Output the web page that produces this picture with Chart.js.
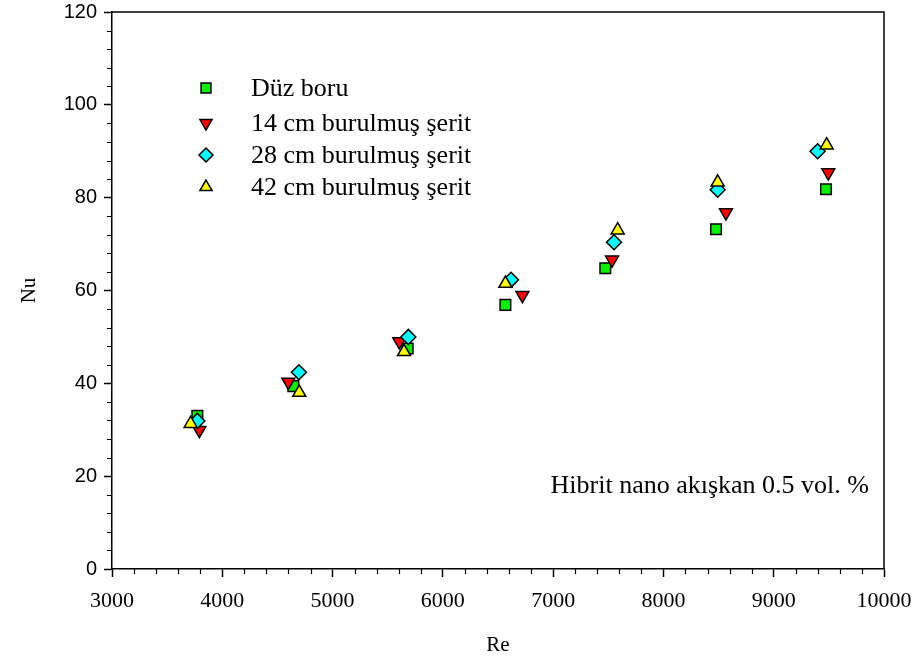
<!DOCTYPE html>
<html>
<head>
<meta charset="utf-8">
<script src="https://cdn.jsdelivr.net/npm/chart.js@4/dist/chart.umd.min.js"></script>
<style>
  html, body { margin: 0; padding: 0; background: #fff; }
  canvas { display: block; }
</style>
</head>
<body>
<canvas id="c" width="917" height="666"></canvas>
<script>
// Nu vs Re for a plain tube and three twisted-tape lengths
const seriesLabels = ['Düz boru', '14 cm burulmuş şerit', '28 cm burulmuş şerit', '42 cm burulmuş şerit'];

const reDuz = [3774, 4644, 5681, 6567, 7473, 8477, 9474];
const nuDuz = [33.0, 39.4, 47.5, 56.9, 64.8, 73.2, 81.8];

const re14 = [3792, 4599, 5605, 6721, 7534, 8567, 9495];
const nu14 = [29.9, 40.3, 49.0, 59.0, 66.6, 76.8, 85.4];

const re28 = [3774, 4695, 5687, 6618, 7552, 8492, 9398];
const nu28 = [31.9, 42.4, 50.0, 62.3, 70.4, 81.7, 90.0];

const re42 = [3713, 4698, 5648, 6567, 7585, 8492, 9480];
const nu42 = [31.3, 38.0, 46.8, 61.5, 73.0, 83.3, 91.3];

const xTicks = [3000, 4000, 5000, 6000, 7000, 8000, 9000, 10000];
const yTicks = [0, 20, 40, 60, 80, 100, 120];

const noteText = 'Hibrit nano akışkan 0.5 vol. %';

const pts = (xs, ys) => xs.map((x, i) => ({ x: x, y: ys[i] }));

const styles = [
  { color: '#00f000', pointStyle: 'rect',     rotation: 0 },
  { color: '#ff0000', pointStyle: 'triangle', rotation: 180 },
  { color: '#00ffff', pointStyle: 'rectRot',  rotation: 0 },
  { color: '#ffff00', pointStyle: 'triangle', rotation: 0 }
];
const values = [pts(reDuz, nuDuz), pts(re14, nu14), pts(re28, nu28), pts(re42, nu42)];

const datasets = values.map((d, i) => ({
  label: seriesLabels[i],
  data: d,
  pointStyle: styles[i].pointStyle,
  rotation: styles[i].rotation,
  pointRadius: 7.5,
  pointHoverRadius: 7.5,
  backgroundColor: styles[i].color,
  borderColor: '#000',
  pointBorderWidth: 1.5,
  showLine: false,
  order: 3 - i
}));

function markerPath(ctx, style, rotation, r, x, y) {
  const rad = rotation * Math.PI / 180;
  ctx.beginPath();
  if (style === 'rect') {
    const s = Math.SQRT1_2 * r;
    ctx.rect(x - s, y - s, 2 * s, 2 * s);
  } else if (style === 'rectRot') {
    ctx.moveTo(x - r, y);
    ctx.lineTo(x, y - r);
    ctx.lineTo(x + r, y);
    ctx.lineTo(x, y + r);
    ctx.closePath();
  } else {
    let a = rad;
    ctx.moveTo(x + Math.sin(a) * r, y - Math.cos(a) * r);
    a += 2 * Math.PI / 3;
    ctx.lineTo(x + Math.sin(a) * r, y - Math.cos(a) * r);
    a += 2 * Math.PI / 3;
    ctx.lineTo(x + Math.sin(a) * r, y - Math.cos(a) * r);
    ctx.closePath();
  }
}

// frame, minor ticks, legend and note
const decor = {
  id: 'decor',
  afterDraw(chart) {
    const { ctx, chartArea: a, scales } = chart;
    const xs = scales.x, ys = scales.y;
    ctx.save();
    ctx.strokeStyle = '#000';
    ctx.lineWidth = 1.5;
    ctx.beginPath();
    ctx.moveTo(a.left, a.top);
    ctx.lineTo(a.right, a.top);
    ctx.lineTo(a.right, a.bottom);
    ctx.stroke();

    ctx.lineWidth = 1.2;
    ctx.beginPath();
    for (let v = 3000; v <= 10000; v += 200) {
      if (v % 1000 === 0) continue;
      const px = Math.round(xs.getPixelForValue(v)) + 0.5;
      ctx.moveTo(px, a.bottom);
      ctx.lineTo(px, a.bottom + 5);
    }
    for (let v = 0; v <= 120; v += 4) {
      if (v % 20 === 0) continue;
      const py = Math.round(ys.getPixelForValue(v)) + 0.5;
      ctx.moveTo(a.left, py);
      ctx.lineTo(a.left - 5, py);
    }
    ctx.stroke();

    // legend
    const lx = 206, tx = 251;
    const rowsY = [88, 123, 155, 187];
    ctx.font = '26px "Liberation Serif", "Times New Roman", serif';
    ctx.textAlign = 'left';
    ctx.textBaseline = 'middle';
    seriesLabels.forEach((lab, i) => {
      const st = styles[i];
      markerPath(ctx, st.pointStyle, st.rotation, 7, lx, rowsY[i]);
      ctx.fillStyle = st.color;
      ctx.fill();
      ctx.lineWidth = 1.5;
      ctx.strokeStyle = '#000';
      ctx.stroke();
      ctx.fillStyle = '#000';
      ctx.fillText(lab, tx, rowsY[i] + 1);
    });

    ctx.textAlign = 'right';
    ctx.fillText(noteText, 869, 486);
    ctx.restore();
  }
};

new Chart(document.getElementById('c'), {
  type: 'scatter',
  data: { datasets: datasets },
  options: {
    responsive: false,
    animation: false,
    events: [],
    layout: { padding: { left: 0, right: 33, top: 12, bottom: 0 } },
    plugins: { legend: { display: false }, tooltip: { enabled: false } },
    scales: {
      x: {
        type: 'linear',
        min: 3000, max: 10000,
        afterFit: s => { s.height = 97; s.paddingLeft = 0; s.paddingRight = 0; },
        afterBuildTicks: s => { s.ticks = xTicks.map(v => ({ value: v })); },
        ticks: {
          color: '#000',
          padding: 11,
          maxRotation: 0,
          autoSkip: false,
          callback: v => String(v),
          font: { family: '"Liberation Serif", "Times New Roman", serif', size: 22 }
        },
        grid: { drawOnChartArea: false, drawTicks: true, tickLength: 8, tickColor: '#000', tickWidth: 1.5 },
        border: { display: true, color: '#000', width: 1.5 },
        title: {
          display: true, text: 'Re', color: '#000',
          font: { family: '"Liberation Serif", "Times New Roman", serif', size: 21 },
          padding: { top: 0, bottom: 8 }
        }
      },
      y: {
        type: 'linear',
        min: 0, max: 120,
        afterFit: s => { s.width = 112; s.paddingTop = 0; s.paddingBottom = 0; },
        afterBuildTicks: s => { s.ticks = yTicks.map(v => ({ value: v })); },
        ticks: {
          color: '#000',
          padding: 7,
          callback: v => String(v),
          font: { family: '"Liberation Sans", Arial, sans-serif', size: 20 }
        },
        grid: { drawOnChartArea: false, drawTicks: true, tickLength: 8, tickColor: '#000', tickWidth: 1.5 },
        border: { display: true, color: '#000', width: 1.5 },
        title: {
          display: true, text: 'Nu', color: '#000',
          font: { family: '"Liberation Serif", "Times New Roman", serif', size: 21 },
          padding: { top: 17, bottom: 0 }
        }
      }
    }
  },
  plugins: [decor]
});
</script>
</body>
</html>
